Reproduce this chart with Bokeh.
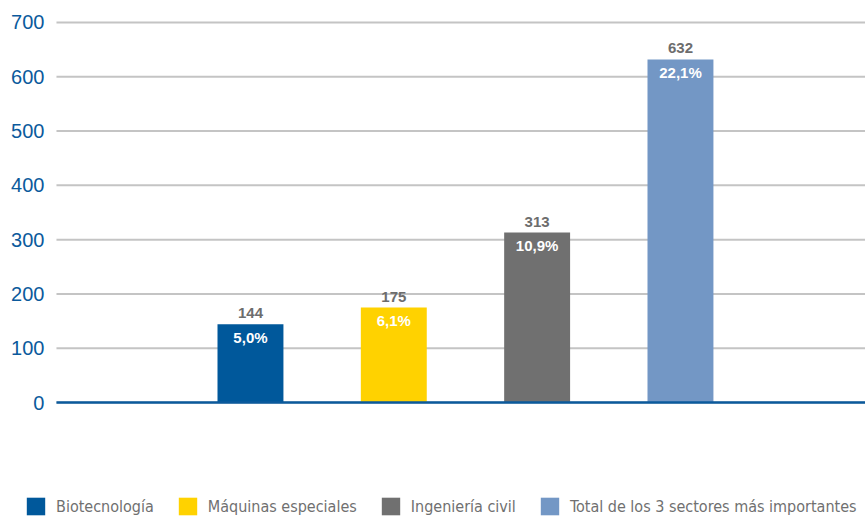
from bokeh.plotting import figure
from bokeh.models import Range1d, ColumnDataSource, Legend, LegendItem
from bokeh.core.properties import value
from bokeh.embed import file_html
from bokeh.resources import INLINE

categories = ["Biotecnología", "Máquinas especiales", "Ingeniería civil",
              "Total de los 3 sectores más importantes"]
values = [144, 175, 313, 632]
percents = ["5,0%", "6,1%", "10,9%", "22,1%"]
colors = ["#00589b", "#ffd200", "#707070", "#7397c5"]
y_ticks = [0, 100, 200, 300, 400, 500, 600, 700]

# layout (data-space extents of the drawing area)
X_START, X_END = -0.744, 5.291
GRID_START = -0.3535
Y_START, Y_END = -211.8, 740.5

positions = list(range(1, len(categories) + 1))
src = ColumnDataSource(dict(x=positions, top=values, pct=percents,
                            vlabel=[str(v) for v in values]))

p = figure(width=865, height=517, output_backend="svg", toolbar_location=None,
           x_range=Range1d(X_START, X_END), y_range=Range1d(Y_START, Y_END),
           min_border=0, min_border_left=0, min_border_right=0,
           min_border_top=0, min_border_bottom=0)
p.outline_line_color = None
p.xaxis.visible = False
p.yaxis.visible = False
p.xgrid.visible = False
p.ygrid.visible = False

# grid lines
tick_src = ColumnDataSource(dict(y=y_ticks, lab=[str(t) for t in y_ticks],
                                 x0=[GRID_START] * len(y_ticks), x1=[X_END] * len(y_ticks)))
p.segment(x0="x0", y0="y", x1="x1", y1="y", source=tick_src,
          line_color="#c4c4c4", line_width=2)
p.text(x="x0", y="y", text="lab", source=tick_src, text_align="right",
       text_baseline="middle", x_offset=-12, text_color="#0b5a9c",
       text_font=value("Liberation Sans"), text_font_size="20px")

bars = []
for i in range(len(categories)):
    r = p.vbar(x=[positions[i]], top=[values[i]], width=0.46, bottom=0,
               fill_color=colors[i], line_color=None)
    bars.append(r)

# baseline
p.segment(x0=[GRID_START], y0=[0], x1=[X_END], y1=[0], line_color="#0b5a9c", line_width=2.5)

p.text(x="x", y="top", text="vlabel", source=src, text_align="center",
       text_baseline="alphabetic", y_offset=-11, text_color="#6d6d6d",
       text_font=value("Liberation Sans"), text_font_style="bold",
       text_font_size="15px")
p.text(x="x", y="top", text="pct", source=src, text_align="center",
       text_baseline="middle", y_offset=13, text_color="#ffffff",
       text_font=value("Liberation Sans"), text_font_style="bold",
       text_font_size="15px")

legend = Legend(items=[LegendItem(label=categories[i], renderers=[bars[i]]) for i in range(len(categories))],
                orientation="horizontal", location=(24, 0))
legend.glyph_width = 23
legend.glyph_height = 22
legend.label_standoff = 9
legend.spacing = 22
legend.padding = 0
legend.margin = 0
legend.border_line_color = None
legend.background_fill_alpha = 0
legend.label_text_color = "#707070"
legend.label_text_font = "'DejaVu Sans Condensed', sans-serif"
legend.label_text_font_size = "16px"
legend.label_height = 22
p.add_layout(legend, "center")

open("out.html", "w").write(file_html(p, INLINE))
